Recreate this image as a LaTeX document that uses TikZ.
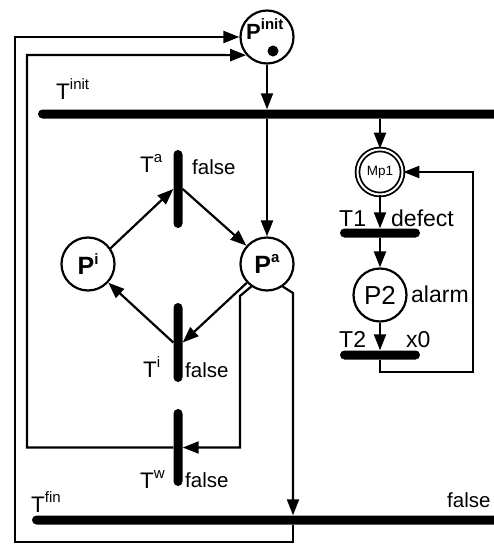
\documentclass[tikz,border=0pt]{standalone}
\usepackage{fontspec}
\setmainfont{Liberation Sans}
\usetikzlibrary{arrows.meta}
\newcommand{\supr}[2]{#1\raisebox{0.42em}{\fontsize{15}{15}\selectfont #2}}
\begin{document}
\begin{tikzpicture}[x=1pt,y=-1pt,
 conn/.style={line width=2.2pt},
 arr/.style={conn,-{Triangle[length=16pt,width=12pt]}},
 place/.style={circle,draw,line width=2.2pt,minimum size=53pt,inner sep=0pt},
 vbar/.style={fill=black,rounded corners=4.5pt,minimum width=9pt,inner sep=0pt},
 hbar/.style={fill=black,rounded corners=4.5pt,minimum height=9pt,inner sep=0pt},
 lbl/.style={anchor=base west,inner sep=0pt,font=\fontsize{22.5}{22.5}\selectfont},
 fl/.style={anchor=base west,inner sep=0pt,font=\fontsize{20.5}{20.5}\selectfont},
 rl/.style={anchor=base west,inner sep=0pt,font=\fontsize{23}{23}\selectfont},
 bigp/.style={font=\fontsize{25}{25}\selectfont\bfseries},
]
\useasboundingbox (0,0) rectangle (494,544);

% places
\node[place] (Pinit) at (267,37) {};
\node[anchor=base west,inner sep=0pt,font=\fontsize{22}{22}\selectfont\bfseries] (Pinittxt) at (246,39) {\supr{P}{init}};
\node[circle,fill,minimum size=11pt,inner sep=0pt] (tok) at (273,51) {};
\node[place,bigp] (Pa) at (267,264) {\supr{P}{a}};
\node[place,bigp] (Pi) at (88,264) {\supr{P}{i}};
\node[circle,draw,double,double distance=2pt,line width=1.8pt,minimum size=45pt,inner sep=0pt,font=\fontsize{13.5}{13.5}\selectfont] (Mp1) at (380,172) {Mp1};
\node[place,font=\fontsize{26}{26}\selectfont] (P2) at (380,295) {P2};

% transitions
\node[hbar,minimum width=482pt] (Tinit) at (279,114) {};
\node[hbar,minimum width=488pt] (Tfin) at (276,520) {};
\node[vbar,minimum height=78pt] (Ta) at (178,189) {};
\node[vbar,minimum height=79pt] (Ti) at (178,342.5) {};
\node[vbar,minimum height=77pt] (Tw) at (178,447.5) {};
\node[hbar,minimum width=80pt] (T1) at (380,233) {};
\node[hbar,minimum width=80pt] (T2) at (380,355) {};

% labels
\node[lbl] (Tinitl) at (56,99) {\supr{T}{init}};
\node[lbl] (Tal) at (140,172) {\supr{T}{a}};
\node[fl] (Taf) at (192,174) {false};
\node[lbl] (Til) at (143,377) {\supr{T}{i}};
\node[fl] (Tif) at (185,377) {false};
\node[lbl] (Twl) at (140,488) {\supr{T}{w}};
\node[fl] (Twf) at (185,487) {false};
\node[lbl] (Tfinl) at (31,512) {\supr{T}{fin}};
\node[fl] (Tfinf) at (447,507) {false};
\node[rl] (T1l) at (339,226) {T1};
\node[rl] (T1f) at (391,226) {defect};
\node[rl] (P2l) at (411,302) {alarm};
\node[rl] (T2l) at (339,347) {T2};
\node[rl] (T2f) at (406,347) {x0};

% connectors
\draw[arr] (Pinit) -- (Pinit |- Tinit.north);
\draw[arr] (Pa |- Tinit.south) -- (Pa);
\draw[arr] (Mp1 |- Tinit.south) -- (Mp1);
\draw[arr] (Pi.35) -- (Ta.west);
\draw[arr] (Ta.east) -- (Pa);
\draw[arr] (Pa) -- (Ti.east);
\draw[arr] (Ti.west) -- (Pi);
\coordinate (pl) at (240,296);
\draw[arr] (Pa.235) -- (pl) |- (Tw.east);
\coordinate (pr) at (293,293);
\draw[arr] (Pa.305) -- (pr) -- (pr |- Tfin.north);
\coordinate (ob) at (15,542);
\draw[arr] (pr |- Tfin.south) |- (ob) |- (Pinit.west);
\coordinate (ib) at (27,55);
\draw[arr] (Tw.west) -| (ib) -- (Pinit.221.8);
\draw[arr] (Mp1) -- (T1.north);
\draw[arr] (T1.south) -- (P2);
\draw[arr] (P2) -- (T2.north);
\coordinate (rb) at (473,372);
\draw[arr] (T2.south) |- (rb) |- (Mp1.east);
\end{tikzpicture}
\end{document}
